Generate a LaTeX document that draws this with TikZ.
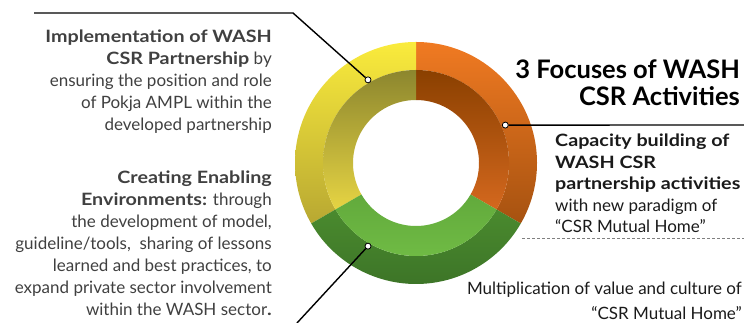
\documentclass[tikz,border=0pt]{standalone}
\usepackage{fontspec}
\setmainfont{Lato}
\newfontfamily\widelato{Lato}[FakeStretch=1.16]
\newcommand{\boldlead}[1]{{\widelato\bfseries #1}}
\usetikzlibrary{positioning}
\definecolor{txtgrey}{HTML}{404040}
\definecolor{txtdark}{HTML}{1A1A1A}
\definecolor{orgtop}{HTML}{F07A22}
\definecolor{orgbot}{HTML}{A65210}
\definecolor{orgintop}{HTML}{8A4000}
\definecolor{orginbot}{HTML}{D4681E}
\definecolor{yeltop}{HTML}{FAEB3C}
\definecolor{yelbot}{HTML}{B8A832}
\definecolor{yelintop}{HTML}{8C862E}
\definecolor{yelinbot}{HTML}{E6D443}
\definecolor{grntop}{HTML}{4A8A2E}
\definecolor{grnbot}{HTML}{3A7026}
\definecolor{grnintop}{HTML}{62AA3C}
\definecolor{grninbot}{HTML}{72BE46}
% one band of the ring: start, end, inner r, outer r, top colour, bottom colour
\newcommand{\ringpart}[6]{%
  \shade[top color=#5,bottom color=#6] (#1:#4) arc[start angle=#1,end angle=#2,radius=#4]
    -- (#2:#3) arc[start angle=#2,end angle=#1,radius=#3] -- cycle;}

\begin{document}
\begin{tikzpicture}[x=1pt,y=1pt,
  dot/.style={circle,draw=black,fill=white,inner sep=0pt,minimum size=6pt,line width=0.8pt},
  link/.style={line width=1.4pt,line join=round},
  body/.style={font={\fontsize{17}{22}\selectfont},inner sep=0pt}]
\useasboundingbox (0,0) rectangle (744,323);
% \draw[help lines,step=50] (0,0) grid (744,323);
\begin{scope}[shift={(416,160)}]
\ringpart{90}{-30}{93}{121}{orgtop}{orgbot}
\ringpart{90}{-30}{63}{93}{orgintop}{orginbot}
\ringpart{90}{210}{93}{121}{yeltop}{yelbot}
\ringpart{90}{210}{63}{93}{yelintop}{yelinbot}
\ringpart{210}{330}{93}{121}{grntop}{grnbot}
\ringpart{210}{330}{63}{93}{grnintop}{grninbot}
\node (pyellow) [dot] at (120:96) {};
\node (porange) [dot] at (23:97) {};
\node (pgreen) [dot] at (240:96) {};
\end{scope}
%
\coordinate (ytop) at (34,310);
\coordinate (ybend) at (293,310);
\coordinate (oend) at (744,198);
\coordinate (gend) at (297,0);
\coordinate (dstart) at (522,85);
\coordinate (dend) at (744,85);
\draw[link] (ytop) -- (ybend) -- (pyellow);
\draw[link] (porange) -- (oend);
\draw[link] (pgreen) -- (gend);
\draw[gray,line width=0.9pt,dash pattern=on 3pt off 2pt] (dstart) -- (dend);
%
\node (title) [anchor=base east,align=right,inner sep=0pt,
  font={\fontsize{25.5}{27}\selectfont\bfseries}] at (740,217)
  {3 Focuses of WASH\\CSR Activities};
\node (impl) [body,anchor=base east,align=right,text=txtgrey] at (272,192)
  {\boldlead{Implementation of WASH}\\ \boldlead{CSR Partnership} by\\
   ensuring the position and role\\ of Pokja AMPL within the\\ developed partnership};
\node (enable) [body,anchor=base east,align=right,text=txtgrey] at (272,7)
  {\boldlead{Creating Enabling}\\ \boldlead{Environments:} through\\ the development of model,\\
   guideline/tools,\ \ sharing of lessons\\ learned and best practices, to\\
   expand private sector involvement\\ within the WASH sector\boldlead{.}};
\node (capacity) [body,anchor=base west,align=left,text=txtdark,
  font={\fontsize{17}{21.5}\selectfont}] at (555,90)
  {\boldlead{Capacity building of}\\ \boldlead{WASH CSR}\\ \boldlead{partnership activities}\\
   with new paradigm of\\ “CSR Mutual Home”};
\node (multi) [anchor=base east,align=right,inner sep=0pt,text=txtdark,
  font={\fontsize{17}{25}\selectfont}] at (742,3)
  {Multiplication of value and culture of\\ “CSR Mutual Home”};
\end{tikzpicture}
\end{document}
